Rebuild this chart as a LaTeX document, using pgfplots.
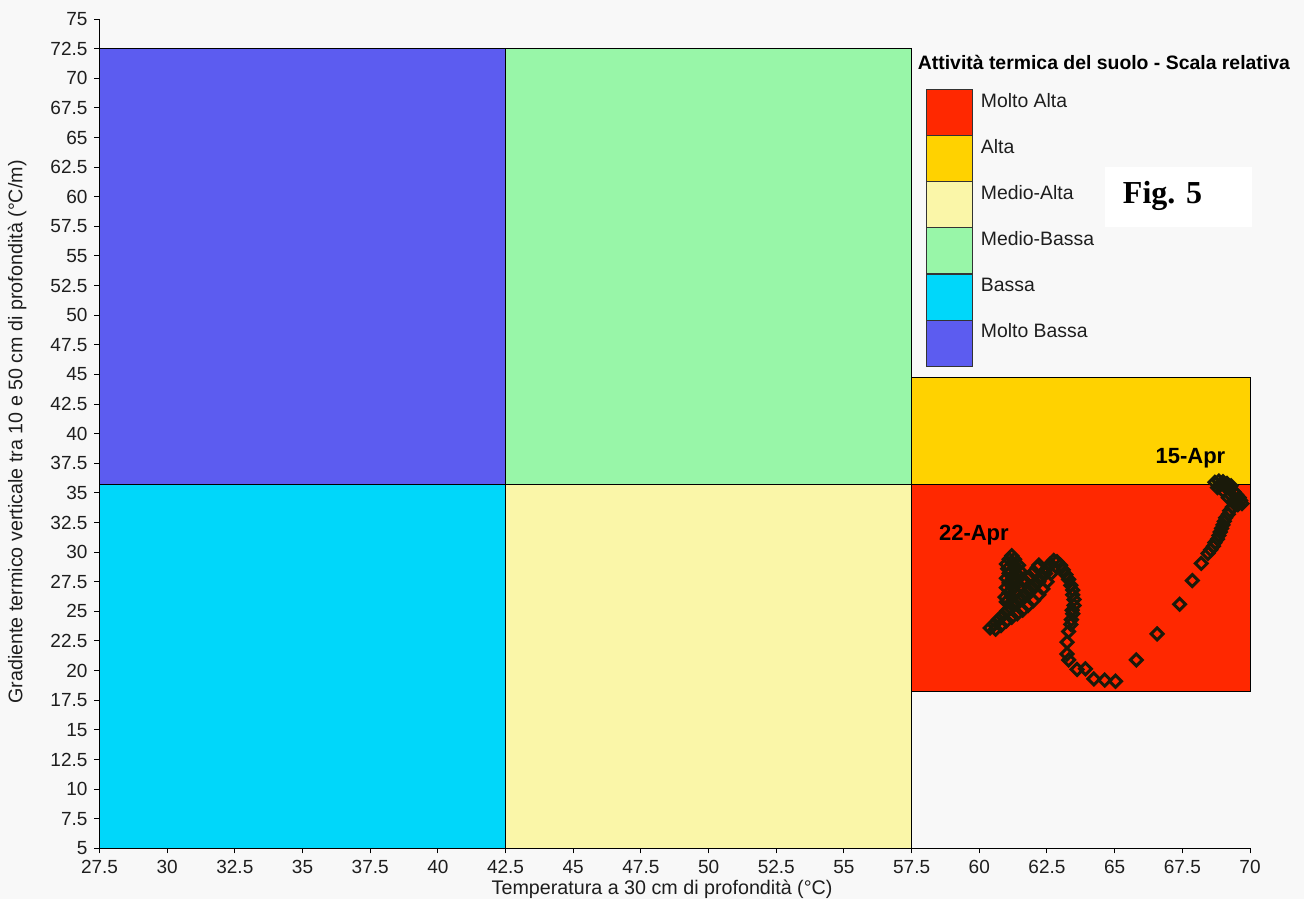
\documentclass[border=0pt]{standalone}
\usepackage{pgfplots}
\pgfplotsset{compat=1.18}
\usepackage{pgfplotstable}
\usepackage{fontspec}
\setmainfont{Liberation Sans}
\newfontfamily\timesfont{Liberation Serif}
\definecolor{bg}{RGB}{248,248,248}
\definecolor{cMB}{RGB}{92,92,240}
\definecolor{cMdB}{RGB}{152,246,168}
\definecolor{cB}{RGB}{0,215,250}
\definecolor{cMdA}{RGB}{250,246,168}
\definecolor{cA}{RGB}{255,210,0}
\definecolor{cMA}{RGB}{255,40,0}
\definecolor{mk}{RGB}{26,26,10}
\definecolor{txt}{RGB}{30,30,30}

\pgfplotstableread{
x y
68.70 35.90
68.85 36.00
69.00 35.95
69.15 35.80
69.30 35.60
68.90 35.70
69.10 35.50
69.25 35.30
69.40 35.10
69.50 34.85
69.60 34.60
69.65 34.35
69.70 34.10
69.55 34.00
69.40 34.30
69.20 34.60
69.30 34.80
69.00 35.20
68.80 35.45
69.35 33.80
69.25 33.50
69.20 33.20
69.10 32.90
69.05 32.60
69.00 32.30
68.95 32.00
68.90 31.70
68.85 31.40
68.80 31.10
68.70 30.80
68.65 30.50
68.55 30.20
68.45 29.90
68.20 29.05
67.87 27.60
67.40 25.60
66.57 23.10
65.80 20.90
65.03 19.10
64.63 19.20
64.23 19.30
63.92 20.15
63.61 20.10
63.30 20.90
63.24 21.40
63.24 22.40
63.30 23.30
63.38 23.90
63.40 24.30
63.45 24.80
63.43 25.10
63.50 25.50
63.50 26.00
63.45 26.40
63.45 26.80
63.38 27.20
63.30 27.70
63.20 28.10
63.10 28.50
63.00 28.90
62.87 29.20
62.75 29.30
62.62 29.00
62.50 28.60
62.45 28.20
62.30 27.90
62.20 27.50
62.05 27.20
61.90 26.90
61.75 26.60
61.60 26.30
61.45 26.00
61.30 25.60
61.15 25.30
61.00 25.00
60.85 24.60
60.70 24.30
60.55 23.90
60.40 23.60
60.60 23.50
60.80 23.80
61.00 24.20
61.20 24.50
61.40 24.80
61.60 25.10
61.80 25.50
62.00 25.90
62.20 26.40
62.35 26.90
62.50 27.50
62.65 28.20
61.20 29.70
61.10 29.40
61.30 29.40
61.00 29.00
61.25 29.00
61.45 28.90
61.05 28.60
61.30 28.60
61.50 28.40
61.10 28.20
61.35 28.20
61.00 27.80
61.25 27.80
61.50 27.90
61.10 27.40
61.35 27.40
61.60 27.60
61.00 27.00
61.25 27.00
61.50 27.10
61.10 26.60
61.35 26.60
60.95 26.20
61.20 26.20
61.00 25.80
61.25 25.70
61.70 27.50
61.85 27.90
62.00 28.30
62.15 28.70
62.20 28.90
}\pts

\begin{document}
\begin{tikzpicture}
\fill[bg] (-49.75pt,-25.35pt) rectangle (602.25pt,424.15pt);
\begin{axis}[
  at={(0pt,0pt)}, anchor=south west,
  width=575.25pt, height=414.65pt, scale only axis,
  xmin=27.5, xmax=70, ymin=5, ymax=75,
  xtick={27.5,30,32.5,35,37.5,40,42.5,45,47.5,50,52.5,55,57.5,60,62.5,65,67.5,70},
  ytick={5,7.5,10,12.5,15,17.5,20,22.5,25,27.5,30,32.5,35,37.5,40,42.5,45,47.5,50,52.5,55,57.5,60,62.5,65,67.5,70,72.5,75},
  axis x line=bottom, axis y line=left,
  axis line style={-, line width=0.7pt, black},
  tick align=outside, major tick length=2.5pt,
  tick style={black, line width=0.5pt},
  ticklabel style={font=\fontsize{9.5}{10}\selectfont, text=txt},
  /pgf/number format/assume math mode=true,
  xlabel={Temperatura a 30 cm di profondità (°C)},
  ylabel={Gradiente termico verticale tra 10 e 50 cm di profondità (°C/m)},
  label style={font=\fontsize{9.85}{11}\selectfont, text=txt},
  xlabel style={at={(axis description cs:0.489,-0.049)}, anchor=center},
  ylabel style={at={(axis description cs:-0.0715,0.502)}, anchor=center, rotate=0},
  clip=false,
  axis on top,
]
\addplot[draw=black, line width=0.5pt, fill=cMB] coordinates {(27.5,35.75) (42.5,35.75) (42.5,72.5) (27.5,72.5) (27.5,35.75)};
\addplot[draw=black, line width=0.5pt, fill=cMdB] coordinates {(42.5,35.75) (57.5,35.75) (57.5,72.5) (42.5,72.5) (42.5,35.75)};
\addplot[draw=black, line width=0.5pt, fill=cB] coordinates {(27.5,5) (42.5,5) (42.5,35.75) (27.5,35.75) (27.5,5)};
\addplot[draw=black, line width=0.5pt, fill=cMdA] coordinates {(42.5,5) (57.5,5) (57.5,35.75) (42.5,35.75) (42.5,5)};
\addplot[draw=black, line width=0.5pt, fill=cA] coordinates {(57.5,35.75) (70,35.75) (70,44.75) (57.5,44.75) (57.5,35.75)};
\addplot[draw=black, line width=0.5pt, fill=cMA] coordinates {(57.5,18.2) (70,18.2) (70,35.75) (57.5,35.75) (57.5,18.2)};
\addplot[only marks, mark=square, mark size=2.1pt, mark options={rotate=45, draw=mk, line width=1.5pt, fill=none}] table[x=x,y=y] {\pts};
\node[font=\bfseries\fontsize{11}{12}\selectfont, text=black] at (axis cs:67.8,37.9) {15-Apr};
\node[font=\bfseries\fontsize{11}{12}\selectfont, text=black] at (axis cs:59.8,31.4) {22-Apr};
\end{axis}
% legend
\node[anchor=west, font=\bfseries\fontsize{9.7}{11}\selectfont, text=black, inner sep=0pt] at (409pt,393pt) {Attività termica del suolo - Scala relativa};
\foreach \c/\t/\k in {cMA/Molto Alta/0, cA/Alta/1, cMdA/Medio-Alta/2, cMdB/Medio-Bassa/3, cB/Bassa/4, cMB/Molto Bassa/5}{
  \fill[\c] (413.5pt,{379.5pt-\k*23.08pt}) rectangle (436.5pt,{379.5pt-(\k+1)*23.08pt});
  \draw[line width=0.6pt, black!80] (413.5pt,{379.5pt-\k*23.08pt}) rectangle (436.5pt,{379.5pt-(\k+1)*23.08pt});
  \node[anchor=west, font=\fontsize{9.7}{11}\selectfont, text=txt, inner sep=0pt] at (440.5pt,{374.1pt-\k*23.08pt}) {\t};
}
\fill[white] (502.5pt,310.5pt) rectangle (576pt,340.5pt);
\node[font=\timesfont\bfseries\fontsize{16}{18}\selectfont] at (531.5pt,326pt) {Fig. 5};
\end{tikzpicture}
\end{document}
